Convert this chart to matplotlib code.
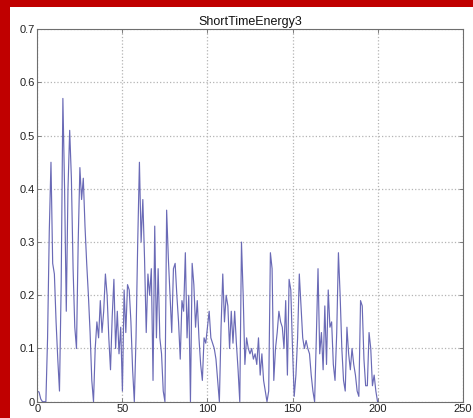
import matplotlib
matplotlib.use("Agg")
import matplotlib.pyplot as plt
from matplotlib.patches import Rectangle
import numpy as np

# Short-time energy per frame
energy = [
    0.02, 0.018, 0.005, 0.0, 0.0, 0.0, 0.12, 0.32, 0.45, 0.26,
    0.24, 0.15, 0.08, 0.02, 0.22, 0.57, 0.40, 0.17, 0.40, 0.51,
    0.42, 0.25, 0.14, 0.10, 0.30, 0.44, 0.38, 0.42, 0.33, 0.26,
    0.20, 0.13, 0.04, 0.0, 0.10, 0.15, 0.12, 0.19, 0.13, 0.17,
    0.24, 0.20, 0.12, 0.06, 0.16, 0.23, 0.10, 0.17, 0.09, 0.14,
    0.02, 0.21, 0.13, 0.22, 0.21, 0.15, 0.06, 0.0, 0.12, 0.30,
    0.45, 0.30, 0.38, 0.27, 0.13, 0.24, 0.20, 0.25, 0.04, 0.33,
    0.12, 0.25, 0.12, 0.09, 0.02, 0.0, 0.36, 0.27, 0.20, 0.13,
    0.25, 0.26, 0.20, 0.15, 0.08, 0.19, 0.17, 0.28, 0.12, 0.20,
    0.0, 0.26, 0.22, 0.14, 0.19, 0.12, 0.07, 0.04, 0.12, 0.11,
    0.14, 0.17, 0.12, 0.11, 0.10, 0.08, 0.04, 0.0, 0.14, 0.24,
    0.15, 0.20, 0.18, 0.10, 0.17, 0.11, 0.17, 0.11, 0.06, 0.0,
    0.30, 0.20, 0.07, 0.12, 0.10, 0.09, 0.10, 0.08, 0.09, 0.07,
    0.12, 0.05, 0.09, 0.04, 0.02, 0.0, 0.02, 0.28, 0.25, 0.04,
    0.10, 0.13, 0.17, 0.15, 0.14, 0.10, 0.19, 0.05, 0.23, 0.21,
    0.10, 0.01, 0.05, 0.12, 0.24, 0.18, 0.12, 0.10, 0.115, 0.10,
    0.09, 0.05, 0.02, 0.0, 0.12, 0.25, 0.09, 0.13, 0.06, 0.18,
    0.07, 0.21, 0.14, 0.15, 0.07, 0.04, 0.13, 0.28, 0.20, 0.10,
    0.04, 0.02, 0.14, 0.09, 0.06, 0.10, 0.07, 0.05, 0.02, 0.01,
    0.19, 0.18, 0.08, 0.03, 0.03, 0.13, 0.10, 0.03, 0.05, 0.02,
    0.0,
]
frames = np.arange(len(energy))

x_ticks = [0, 50, 100, 150, 200, 250]
x_labels = ["0", "50", "100", "150", "200", "250"]
y_ticks = [0, 0.1, 0.2, 0.3, 0.4, 0.5, 0.6, 0.7]
y_labels = ["0", "0.1", "0.2", "0.3", "0.4", "0.5", "0.6", "0.7"]

plt.rcParams["font.family"] = ["Liberation Sans", "DejaVu Sans"]

fig = plt.figure(figsize=(4.73, 4.18), dpi=100)
fig.patch.set_facecolor("white")
ax = fig.add_axes([0.079, 0.039, 0.899, 0.891])

ax.plot(frames, energy, color="#6a6ab6", linewidth=0.85)

ax.set_xlim(0, 250)
ax.set_ylim(0, 0.7)
ax.set_xticks(x_ticks)
ax.set_xticklabels(x_labels)
ax.set_yticks(y_ticks)
ax.set_yticklabels(y_labels)

ax.grid(True, linestyle=":", color="#b4b4b4", linewidth=0.9)
for s in ax.spines.values():
    s.set_color("#6e6e6e")
    s.set_linewidth(0.8)
ax.tick_params(direction="in", length=3, width=0.6, color="#6e6e6e",
               labelsize=8, labelcolor="#222222", top=True, right=True, pad=2)

ax.set_title("ShortTimeEnergy3", fontsize=9, color="#111111", pad=3)

# Red frame along the left and top edges
fig.patches.append(Rectangle((0, 0), 10 / 473, 1, transform=fig.transFigure,
                             facecolor="#c00000", edgecolor="none", zorder=10))
fig.patches.append(Rectangle((0, 1 - 7 / 418), 1, 7 / 418, transform=fig.transFigure,
                             facecolor="#c00000", edgecolor="none", zorder=10))

fig.savefig("out.png", dpi=100)
